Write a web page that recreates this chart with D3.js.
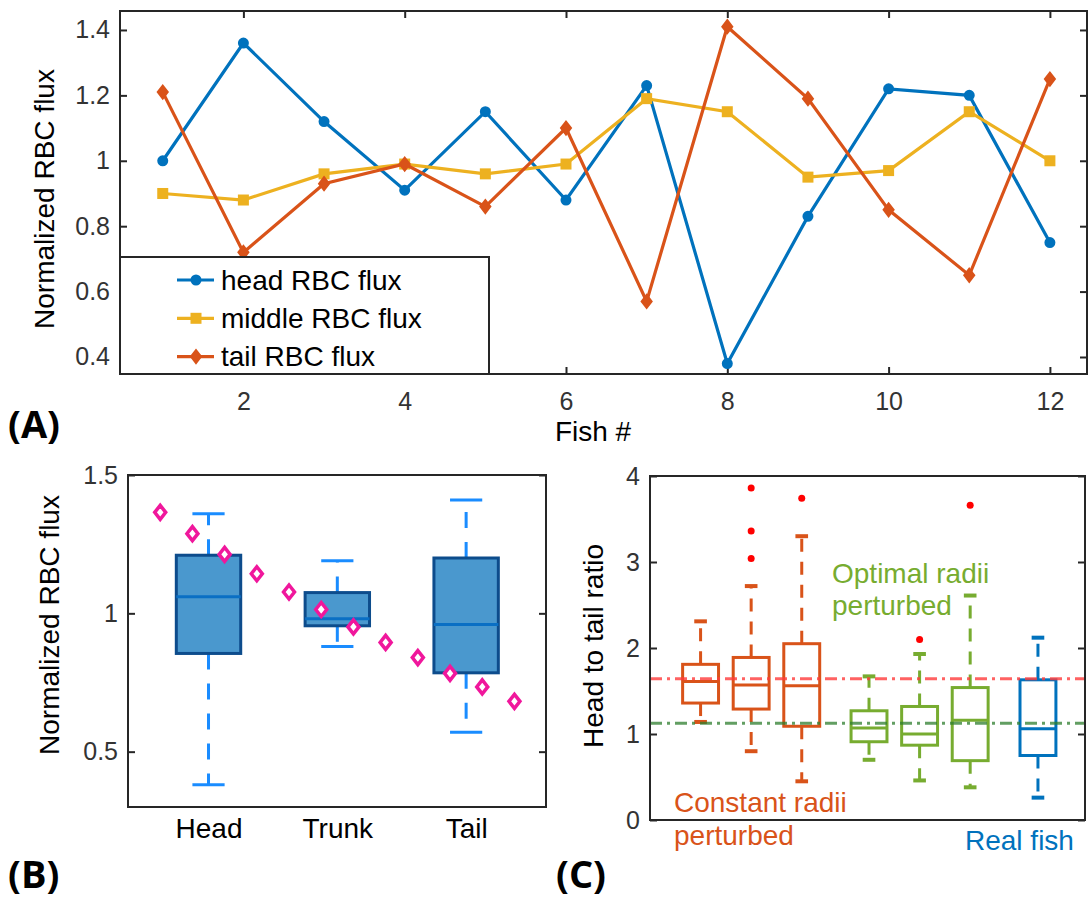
<!DOCTYPE html>
<html>
<head>
<meta charset="utf-8">
<script src="https://cdn.jsdelivr.net/npm/d3@7"></script>
<style>
  body { margin: 0; background: #fff; }
  svg text { font-family: "Liberation Sans", Arial, sans-serif; }
</style>
</head>
<body>
<div id="chart"></div>
<script>
// ---- data ----
const fishIds = [1, 2, 3, 4, 5, 6, 7, 8, 9, 10, 11, 12];
const headFlux = [1.00, 1.36, 1.12, 0.91, 1.15, 0.88, 1.23, 0.38, 0.83, 1.22, 1.20, 0.75];
const middleFlux = [0.90, 0.88, 0.96, 0.99, 0.96, 0.99, 1.19, 1.15, 0.95, 0.97, 1.15, 1.00];
const tailFlux = [1.21, 0.72, 0.93, 0.99, 0.86, 1.10, 0.57, 1.41, 1.19, 0.85, 0.65, 1.25];
const aXTicks = [2, 4, 6, 8, 10, 12];
const aYTicks = [0.4, 0.6, 0.8, 1, 1.2, 1.4];
const aSeriesNames = ["head RBC flux", "middle RBC flux", "tail RBC flux"];

const bCategories = ["Head", "Trunk", "Tail"];
const bYTicks = [0.5, 1, 1.5];
const bModelPos = [0.625, 0.875, 1.125, 1.375, 1.625, 1.875, 2.125, 2.375, 2.625, 2.875, 3.125, 3.375];
const bModel = [1.365, 1.288, 1.213, 1.143, 1.077, 1.014, 0.951, 0.895, 0.840, 0.783, 0.734, 0.682];

const cPos = [1, 2, 3, 4.33, 5.33, 6.33, 7.67];
const cGroup = ["const", "const", "const", "opt", "opt", "opt", "real"];
const cLowWhisker = [1.14, 0.80, 0.45, 0.70, 0.46, 0.38, 0.26];
const cQ1 = [1.36, 1.29, 1.09, 0.91, 0.87, 0.69, 0.75];
const cMedian = [1.61, 1.57, 1.56, 1.07, 1.00, 1.16, 1.06];
const cQ3 = [1.81, 1.89, 2.05, 1.27, 1.32, 1.54, 1.63];
const cHighWhisker = [2.31, 2.72, 3.30, 1.67, 1.93, 2.61, 2.12];
const cOutliers = [[], [3.86, 3.36, 3.04], [3.74], [], [2.10], [3.66], []];
const cRefConst = 1.643;
const cRefOpt = 1.124;
const cYTicks = [0, 1, 2, 3, 4];

// ---- styles ----
const axisCol = "#262626";
const blue = "#0072BD", yellow = "#EDB120", orange = "#D95319", green = "#77AC30";
const tickFont = 25, labelFont = 28;

const svg = d3.select("#chart").append("svg")
  .attr("width", 1088).attr("height", 903)
  .style("background", "#fff");

// helpers
function frame(l, t, r, b) {
  svg.append("rect").attr("x", l).attr("y", t).attr("width", r - l).attr("height", b - t)
    .attr("fill", "none").attr("stroke", axisCol).attr("stroke-width", 2);
}
function styleAxis(g) {
  g.select(".domain").remove();
  g.selectAll(".tick line").attr("stroke", axisCol).attr("stroke-width", 2);
  g.selectAll(".tick text").attr("fill", "#333").style("font-size", tickFont + "px")
    .style("font-family", "'Liberation Sans', Arial, sans-serif");
}
function diamondPath(w, h) {
  return "M0," + (-h / 2) + "L" + (w / 2) + ",0L0," + (h / 2) + "L" + (-w / 2) + ",0Z";
}
function drawMarker(g, kind, col) {
  if (kind === "circle") {
    g.append("circle").attr("r", 4.5).attr("fill", col).attr("stroke", col).attr("stroke-width", 2);
  } else if (kind === "square") {
    g.append("rect").attr("x", -4.5).attr("y", -4.5).attr("width", 9).attr("height", 9)
      .attr("fill", col).attr("stroke", col).attr("stroke-width", 2);
  } else {
    g.append("path").attr("d", diamondPath(10, 13)).attr("fill", col)
      .attr("stroke", col).attr("stroke-width", 2);
  }
}

// =================== Panel A ===================
const A = { l: 120, t: 11, r: 1087, b: 374 };
const xA = d3.scaleLinear().domain([0.47, 12.46]).range([A.l, A.r]);
const yA = d3.scaleLinear().domain([0.348, 1.458]).range([A.b, A.t]);

svg.append("g").attr("transform", "translate(0," + A.b + ")")
  .call(d3.axisBottom(xA).tickValues(aXTicks).tickSizeInner(-7).tickSizeOuter(0).tickPadding(18))
  .call(styleAxis);
svg.append("g").attr("transform", "translate(0," + A.t + ")")
  .call(d3.axisTop(xA).tickValues(aXTicks).tickSizeInner(-7).tickSizeOuter(0).tickFormat(""))
  .call(styleAxis);
svg.append("g").attr("transform", "translate(" + A.l + ",0)")
  .call(d3.axisLeft(yA).tickValues(aYTicks).tickSizeInner(-7).tickSizeOuter(0).tickPadding(10)
    .tickFormat(d => d === 1 ? "1" : d3.format(".1f")(d)))
  .call(styleAxis);
svg.append("g").attr("transform", "translate(" + A.r + ",0)")
  .call(d3.axisRight(yA).tickValues(aYTicks).tickSizeInner(-7).tickSizeOuter(0).tickFormat(""))
  .call(styleAxis);

const aSeries = [
  { name: aSeriesNames[0], vals: headFlux, col: blue, mk: "circle" },
  { name: aSeriesNames[1], vals: middleFlux, col: yellow, mk: "square" },
  { name: aSeriesNames[2], vals: tailFlux, col: orange, mk: "diamond" }
];
const lineA = d3.line().x(d => xA(d[0])).y(d => yA(d[1]));
aSeries.forEach(s => {
  const pts = fishIds.map((f, i) => [f, s.vals[i]]);
  svg.append("path").datum(pts).attr("d", lineA)
    .attr("fill", "none").attr("stroke", s.col).attr("stroke-width", 3.2);
  svg.selectAll(null).data(pts).enter().append("g")
    .attr("transform", d => "translate(" + xA(d[0]) + "," + yA(d[1]) + ")")
    .each(function () { drawMarker(d3.select(this), s.mk, s.col); });
});
frame(A.l, A.t, A.r, A.b);

// legend
const leg = svg.append("g");
leg.append("rect").attr("x", A.l).attr("y", 257).attr("width", 489 - A.l).attr("height", A.b - 257)
  .attr("fill", "#fff").attr("stroke", axisCol).attr("stroke-width", 2);
aSeries.forEach((s, i) => {
  const cy = 280 + i * 38.3;
  leg.append("line").attr("x1", 177).attr("x2", 214).attr("y1", cy).attr("y2", cy)
    .attr("stroke", s.col).attr("stroke-width", 3.2);
  const m = leg.append("g").attr("transform", "translate(196," + cy + ")");
  drawMarker(m, s.mk, s.col);
  leg.append("text").attr("x", 221).attr("y", cy).attr("dy", "0.35em")
    .style("font-size", labelFont + "px").attr("fill", "#000").text(s.name);
});

svg.append("text").attr("x", 593).attr("y", 441).attr("text-anchor", "middle")
  .style("font-size", labelFont + "px").attr("fill", "#000").text("Fish #");
svg.append("text").attr("transform", "translate(54,199) rotate(-90)").attr("text-anchor", "middle")
  .style("font-size", labelFont + "px").attr("fill", "#000").text("Normalized RBC flux");

// =================== Panel B ===================
const B = { l: 128, t: 475, r: 546, b: 807 };
const xB = d3.scaleLinear().domain([0.375, 3.62]).range([B.l, B.r]);
const yB = d3.scaleLinear().domain([0.3, 1.5]).range([B.b, B.t]);

function mQuantile(sorted, p) {
  const n = sorted.length, pos = p * n + 0.5;
  if (pos <= 1) return sorted[0];
  if (pos >= n) return sorted[n - 1];
  const lo = Math.floor(pos), fr = pos - lo;
  return sorted[lo - 1] + fr * (sorted[lo] - sorted[lo - 1]);
}
function boxStats(vals) {
  const s = vals.slice().sort(d3.ascending);
  const q1 = mQuantile(s, 0.25), med = mQuantile(s, 0.5), q3 = mQuantile(s, 0.75);
  const iqr = q3 - q1;
  const lo = d3.min(s.filter(v => v >= q1 - 1.5 * iqr));
  const hi = d3.max(s.filter(v => v <= q3 + 1.5 * iqr));
  return { q1, med, q3, lo, hi };
}
const bStats = [headFlux, middleFlux, tailFlux].map(boxStats);

svg.append("g").attr("transform", "translate(" + B.l + ",0)")
  .call(d3.axisLeft(yB).tickValues(bYTicks).tickSizeInner(-7).tickSizeOuter(0).tickPadding(10)
    .tickFormat(d => d === 1 ? "1" : d3.format(".1f")(d)))
  .call(styleAxis);
svg.append("g").attr("transform", "translate(" + B.r + ",0)")
  .call(d3.axisRight(yB).tickValues(bYTicks).tickSizeInner(-7).tickSizeOuter(0).tickFormat(""))
  .call(styleAxis);
svg.append("g").attr("transform", "translate(0," + B.b + ")")
  .call(d3.axisBottom(xB).tickValues([1, 2, 3]).tickSize(0).tickPadding(11)
    .tickFormat((d, i) => bCategories[i]))
  .call(styleAxis)
  .selectAll(".tick text").style("font-size", "28px").attr("fill", "#000");

const whiskB = "#1a8cff";
bStats.forEach((st, i) => {
  const cx = xB(i + 1), hw = xB(1.25) - xB(1), cw = xB(1.125) - xB(1);
  // whiskers
  [[st.q3, st.hi], [st.q1, st.lo]].forEach(([a, b]) => {
    svg.append("line").attr("x1", cx).attr("x2", cx).attr("y1", yB(a)).attr("y2", yB(b))
      .attr("stroke", whiskB).attr("stroke-width", 3).attr("stroke-dasharray", "16,14");
    svg.append("line").attr("x1", cx - cw).attr("x2", cx + cw).attr("y1", yB(b)).attr("y2", yB(b))
      .attr("stroke", whiskB).attr("stroke-width", 3);
  });
  svg.append("rect").attr("x", cx - hw).attr("y", yB(st.q3)).attr("width", 2 * hw)
    .attr("height", yB(st.q1) - yB(st.q3))
    .attr("fill", "#4a98ce").attr("stroke", "#0d4c8c").attr("stroke-width", 3);
  svg.append("line").attr("x1", cx - hw).attr("x2", cx + hw).attr("y1", yB(st.med)).attr("y2", yB(st.med))
    .attr("stroke", "#0a6fc4").attr("stroke-width", 3);
});
svg.selectAll(null).data(bModel).enter().append("path")
  .attr("transform", (d, i) => "translate(" + xB(bModelPos[i]) + "," + yB(d) + ")")
  .attr("d", diamondPath(11, 14)).attr("fill", "#fff").attr("stroke", "#f0179c").attr("stroke-width", 3.5);
frame(B.l, B.t, B.r, B.b);
svg.append("text").attr("transform", "translate(59,625) rotate(-90)").attr("text-anchor", "middle")
  .style("font-size", labelFont + "px").attr("fill", "#000").text("Normalized RBC flux");

// =================== Panel C ===================
const C = { l: 650, t: 476, r: 1085, b: 820 };
const xC = d3.scaleLinear().domain([0, 8.6]).range([C.l, C.r]);
const yC = d3.scaleLinear().domain([0, 4]).range([C.b, C.t]);
const groupCol = { const: orange, opt: green, real: blue };

svg.append("g").attr("transform", "translate(" + C.l + ",0)")
  .call(d3.axisLeft(yC).tickValues(cYTicks).tickSizeInner(-7).tickSizeOuter(0).tickPadding(10)
    .tickFormat(d3.format("d")))
  .call(styleAxis);
svg.append("g").attr("transform", "translate(" + C.r + ",0)")
  .call(d3.axisRight(yC).tickValues(cYTicks).tickSizeInner(-7).tickSizeOuter(0).tickFormat(""))
  .call(styleAxis);

const hwC = (xC(0.355) - xC(0)), cwC = (xC(0.125) - xC(0));
cPos.forEach((p, i) => {
  const cx = xC(p), col = groupCol[cGroup[i]];
  [[cQ3[i], cHighWhisker[i]], [cQ1[i], cLowWhisker[i]]].forEach(([a, b]) => {
    svg.append("line").attr("x1", cx).attr("x2", cx).attr("y1", yC(a)).attr("y2", yC(b))
      .attr("stroke", col).attr("stroke-width", 3).attr("stroke-dasharray", "13,10");
    svg.append("line").attr("x1", cx - cwC).attr("x2", cx + cwC).attr("y1", yC(b)).attr("y2", yC(b))
      .attr("stroke", col).attr("stroke-width", 4);
  });
  svg.append("rect").attr("x", cx - hwC).attr("y", yC(cQ3[i])).attr("width", 2 * hwC)
    .attr("height", yC(cQ1[i]) - yC(cQ3[i]))
    .attr("fill", "none").attr("stroke", col).attr("stroke-width", 3);
  svg.append("line").attr("x1", cx - hwC).attr("x2", cx + hwC).attr("y1", yC(cMedian[i])).attr("y2", yC(cMedian[i]))
    .attr("stroke", col).attr("stroke-width", 3);
  svg.selectAll(null).data(cOutliers[i]).enter().append("circle")
    .attr("cx", cx).attr("cy", d => yC(d)).attr("r", 3.5).attr("fill", "#ff0000");
});
svg.append("line").attr("x1", C.l).attr("x2", C.r).attr("y1", yC(cRefConst)).attr("y2", yC(cRefConst))
  .attr("stroke", "#ff3b3b").attr("stroke-opacity", 0.8).attr("stroke-width", 3).attr("stroke-dasharray", "12,5,3,5");
svg.append("line").attr("x1", C.l).attr("x2", C.r).attr("y1", yC(cRefOpt)).attr("y2", yC(cRefOpt))
  .attr("stroke", "#2e7d2e").attr("stroke-opacity", 0.75).attr("stroke-width", 3).attr("stroke-dasharray", "12,5,3,5");
frame(C.l, C.t, C.r, C.b);

svg.append("text").attr("transform", "translate(603,646) rotate(-90)").attr("text-anchor", "middle")
  .style("font-size", labelFont + "px").attr("fill", "#000").text("Head to tail ratio");
const cNotes = [
  { t: "Optimal radii", x: 832, y: 583, c: green },
  { t: "perturbed", x: 832, y: 615, c: green },
  { t: "Constant radii", x: 674, y: 812, c: orange },
  { t: "perturbed", x: 674, y: 845, c: orange },
  { t: "Real fish", x: 965, y: 850, c: blue }
];
cNotes.forEach(n => svg.append("text").attr("x", n.x).attr("y", n.y)
  .style("font-size", labelFont + "px").attr("fill", n.c).text(n.t));

// panel letters
[["(A)", 8, 438], ["(B)", 8, 888], ["(C)", 556, 888]].forEach(([t, x, y]) =>
  svg.append("text").attr("x", x).attr("y", y)
    .style("font-family", "'Open Sans', sans-serif").style("font-weight", 700)
    .style("font-size", "38px").attr("fill", "#000").text(t));
</script>
</body>
</html>
